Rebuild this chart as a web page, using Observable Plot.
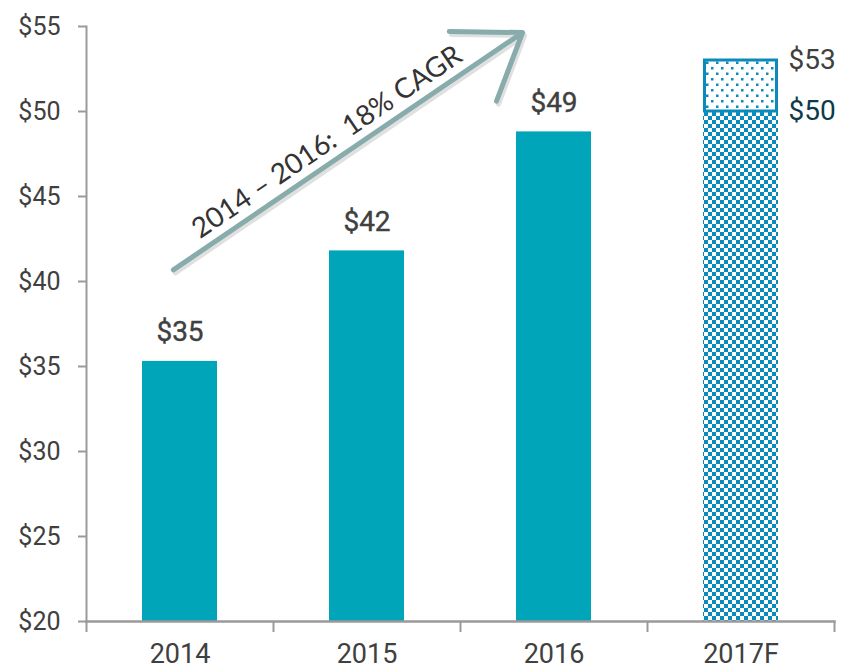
<!DOCTYPE html>
<html>
<head>
<meta charset="utf-8">
<script src="https://cdn.jsdelivr.net/npm/d3@7"></script>
<script src="https://cdn.jsdelivr.net/npm/@observablehq/plot@0.6"></script>
<style>
  html, body { margin: 0; padding: 0; background: #ffffff; }
  #chart svg { display: block; }
</style>
</head>
<body>
<div id="chart"></div>
<script>
// ---- data ----
const categories = ["2014", "2015", "2016", "2017F"];
const actualYears = ["2014", "2015", "2016"];
const actualValues = [35.3, 41.8, 48.8];
const actualLabels = ["$35", "$42", "$49"];
const forecastYear = ["2017F"];
const forecastLow = [50];
const forecastHigh = [53];
const forecastLabels = ["$53", "$50"];
const forecastLabelValues = [53, 50];
const yTicks = [20, 25, 30, 35, 40, 45, 50, 55];
const yDomain = [20, 55];
const cagrText = ["2014 – 2016:  18% CAGR"];
const arrowFromYear = ["2014"];
const arrowFromValue = [40.95];
const arrowToYear = ["2016"];
const arrowToValue = [55.9];
const cagrYear = ["2015"];
const cagrValue = [48.2];

// ---- layout ----
const W = 842, H = 669;
const mL = 86, mR = 8, mT = 26, mB = 48;
const step = (W - mL - mR) / categories.length;
const barInset = 56;

const teal = "#00a5b9";
const blue = "#0b8bbb";
const textGray = "#404040";
const arrowColor = "#88abac";

const actual = actualYears.map((y, i) => ({year: y, value: actualValues[i], label: actualLabels[i]}));
const forecast = forecastYear.map((y, i) => ({year: y, low: forecastLow[i], high: forecastHigh[i]}));
const fLabels = forecastLabels.map((l, i) => ({year: forecastYear[0], value: forecastLabelValues[i], label: l}));
const arrowData = arrowFromYear.map((y, i) => ({x1: y, y1: arrowFromValue[i], x2: arrowToYear[i], y2: arrowToValue[i]}));
const cagrData = cagrText.map((t, i) => ({year: cagrYear[i], value: cagrValue[i], text: t}));

const chart = Plot.plot({
  width: W,
  height: H,
  marginLeft: mL,
  marginRight: mR,
  marginTop: mT,
  marginBottom: mB,
  style: {fontFamily: "Roboto, sans-serif", color: textGray, background: "#ffffff"},
  x: {domain: categories, padding: 0},
  y: {domain: yDomain},
  marks: [
    // bars
    Plot.barY(actual, {x: "year", y1: yDomain[0], y2: "value", fill: teal, insetLeft: barInset, insetRight: barInset}),
    Plot.barY(forecast, {x: "year", y1: yDomain[0], y2: "low", fill: "url(#checker)", insetLeft: barInset, insetRight: barInset}),
    Plot.barY(forecast, {x: "year", y1: "low", y2: "high", fill: "url(#dots)", stroke: blue, strokeWidth: 3, insetLeft: barInset + 1.5, insetRight: barInset + 1.5}),
    // axes
    Plot.axisY({ticks: yTicks, tickFormat: d => "$" + d, tickSize: 8, tickPadding: 18, fontSize: 25, stroke: "#9a9a9a", strokeWidth: 2, color: textGray}),
    Plot.axisX({tickSize: 0, tickPadding: 22, fontSize: 27, color: textGray}),
    Plot.frame({anchor: "left", stroke: "#9a9a9a", strokeWidth: 2}),
    Plot.frame({anchor: "bottom", stroke: "#9a9a9a", strokeWidth: 2.5}),
    Plot.ruleX(categories, {x: d => d, y1: yDomain[0], y2: yDomain[0], dx: -step / 2, insetBottom: -11, stroke: "#9a9a9a", strokeWidth: 2}),
    Plot.ruleX(categories.slice(-1), {x: d => d, y1: yDomain[0], y2: yDomain[0], dx: step / 2, insetBottom: -11, stroke: "#9a9a9a", strokeWidth: 2}),
    // value labels
    Plot.text(actual, {x: "year", y: "value", text: "label", lineAnchor: "bottom", dy: -20, fontSize: 28, fill: textGray, stroke: textGray, strokeWidth: 0.4}),
    Plot.text(fLabels, {x: "year", y: "value", text: "label", textAnchor: "start", dx: step / 2 - barInset + 10, fontSize: 28, fill: (d) => d.label === forecastLabels[1] ? "#0e3b4b" : textGray}),
    // CAGR arrow (shadow + arrow)
    Plot.arrow(arrowData, {x1: "x1", y1: "y1", x2: "x2", y2: "y2", insetStart: -8, insetEnd: 38, dx: 2, dy: 3, stroke: "#bbbbbb", strokeOpacity: 0.45, strokeWidth: 5, headLength: 22, headAngle: 70, bend: false}),
    Plot.arrow(arrowData, {x1: "x1", y1: "y1", x2: "x2", y2: "y2", insetStart: -8, insetEnd: 38, stroke: arrowColor, strokeWidth: 5, headLength: 22, headAngle: 70, bend: false}),
    Plot.text(cagrData, {x: "year", y: "value", text: "text", rotate: -34.2, dx: -40, fontSize: 28, fontFamily: "Lato, sans-serif", fill: "#333333"})
  ]
});

document.getElementById("chart").appendChild(chart);

// patterns for the forecast bar
const svg = d3.select(chart.tagName.toLowerCase() === "svg" ? chart : chart.querySelector("svg"));
const defs = svg.insert("defs", ":first-child");
const checker = defs.append("pattern").attr("id", "checker").attr("patternUnits", "userSpaceOnUse")
  .attr("width", 8).attr("height", 8);
checker.append("rect").attr("width", 8).attr("height", 8).attr("fill", "#ffffff");
checker.append("rect").attr("x", 0).attr("y", 0).attr("width", 4).attr("height", 4).attr("fill", blue);
checker.append("rect").attr("x", 4).attr("y", 4).attr("width", 4).attr("height", 4).attr("fill", blue);
const dots = defs.append("pattern").attr("id", "dots").attr("patternUnits", "userSpaceOnUse")
  .attr("width", 10).attr("height", 11);
dots.append("rect").attr("width", 10).attr("height", 11).attr("fill", "#ffffff");
dots.append("rect").attr("x", 1).attr("y", 1).attr("width", 2.5).attr("height", 2.5).attr("fill", blue);
dots.append("rect").attr("x", 6).attr("y", 6.5).attr("width", 2.5).attr("height", 2.5).attr("fill", blue);
</script>
</body>
</html>
